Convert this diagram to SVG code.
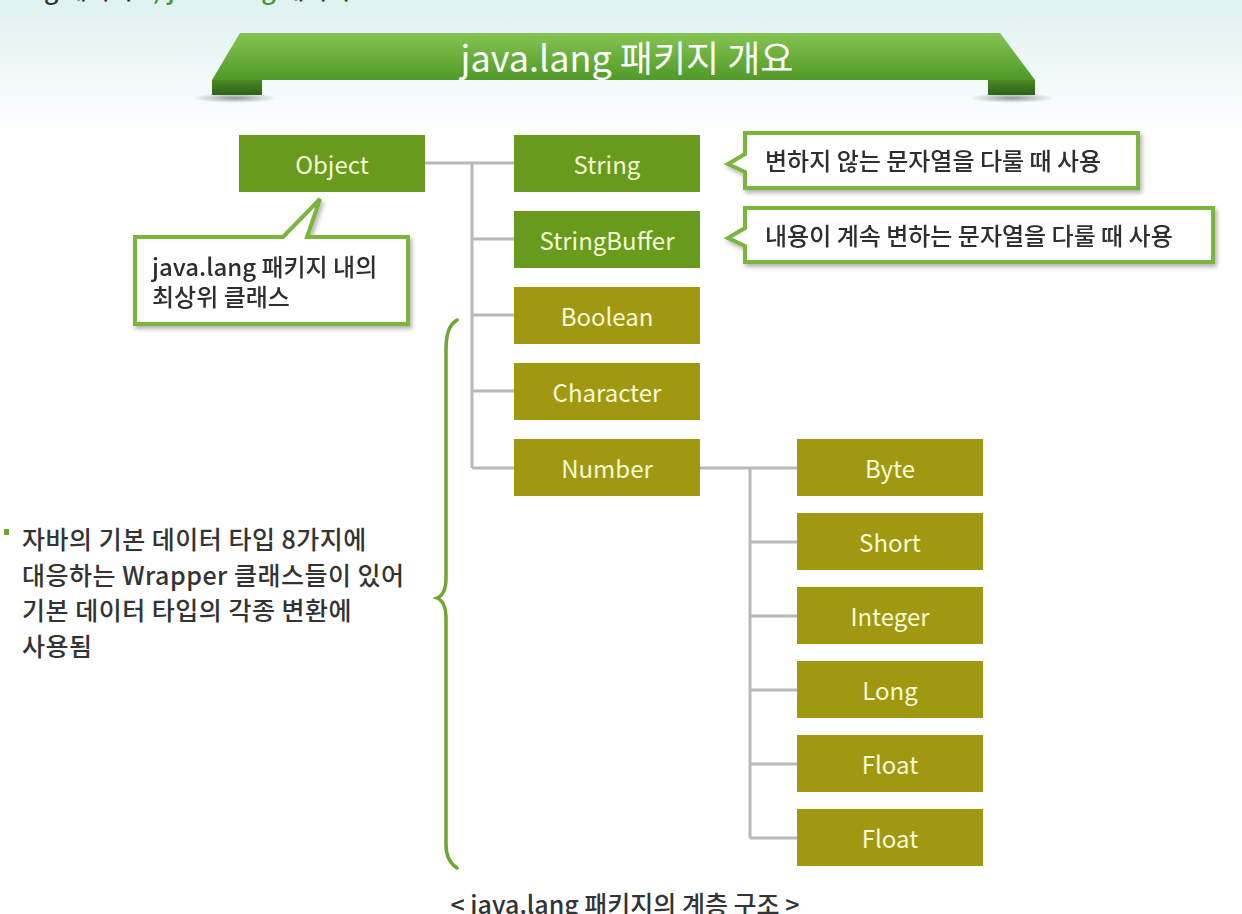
<svg xmlns="http://www.w3.org/2000/svg" width="1242" height="914" viewBox="0 0 1242 914">
<defs>
<linearGradient id="bg" x1="0" y1="0" x2="0" y2="1">
<stop offset="0" stop-color="#dff1f1"/>
<stop offset="1" stop-color="#ffffff"/>
</linearGradient>
<linearGradient id="ban" x1="0" y1="0" x2="0" y2="1">
<stop offset="0" stop-color="#86c452"/>
<stop offset="1" stop-color="#4f9a28"/>
</linearGradient>
<linearGradient id="tab" x1="0" y1="0" x2="0" y2="1">
<stop offset="0" stop-color="#4a8a22"/>
<stop offset="1" stop-color="#2c6315"/>
</linearGradient>
<radialGradient id="shd" cx="0.5" cy="0.5" r="0.5">
<stop offset="0" stop-color="#555" stop-opacity="0.6"/>
<stop offset="1" stop-color="#555" stop-opacity="0"/>
</radialGradient>
<filter id="ds" x="-10%" y="-20%" width="120%" height="150%">
<feDropShadow dx="2" dy="3" stdDeviation="2" flood-color="#000" flood-opacity="0.3"/>
</filter>
</defs>
<style>
.g{fill:#689b1d}
.o{fill:#a19812}
.lbl{font-family:"Noto Sans CJK KR","Open Sans",sans-serif;font-size:24px;fill:#f6f9d6;text-anchor:middle;dominant-baseline:central}
.con{fill:none;stroke:#b8b8b8;stroke-width:3}
.call{fill:#ffffff;stroke:#79b63b;stroke-width:4;stroke-linejoin:miter}
.ct{font-family:"Noto Sans CJK KR",sans-serif;font-size:24px;font-weight:500;fill:#2e2e2e}
.bt{font-family:"Noto Sans CJK KR",sans-serif;font-size:25px;font-weight:500;fill:#333333}
</style>
<rect x="0" y="0" width="1242" height="914" fill="#ffffff"/>
<rect x="0" y="0" width="1242" height="140" fill="url(#bg)"/>

<g id="topline">
<text x="-50" y="-1" class="bt"><tspan>java.lang 패키지 </tspan><tspan fill="#3e9a2a">1) java.lang</tspan><tspan> 패키지</tspan></text>
</g>

<g id="banner">
<ellipse cx="235" cy="98" rx="42" ry="5" fill="url(#shd)"/>
<ellipse cx="1012" cy="98" rx="42" ry="5" fill="url(#shd)"/>
<rect x="212" y="80" width="50" height="15" fill="url(#tab)"/>
<rect x="988" y="80" width="47" height="15" fill="url(#tab)"/>
<polygon points="240,33 1000,33 1035,80 212,80" fill="url(#ban)"/>
<text x="627" y="56" font-family="Noto Sans CJK KR,sans-serif" font-size="36" fill="#ffffff" text-anchor="middle" dominant-baseline="central">java.lang 패키지 개요</text>
</g>

<g id="connectors">
<path class="con" d="M425,163 H514 M472,163 V468 M472,239 H514 M472,315 H514 M472,391 H514 M472,468 H514"/>
<path class="con" d="M700,468 H797 M750,468 V838 M750,542 H797 M750,616 H797 M750,690 H797 M750,764 H797 M750,838 H797"/>
</g>

<g id="object"><rect class="g" x="239" y="135" width="186" height="57"/><text class="lbl" x="332" y="163">Object</text></g>
<g id="string"><rect class="g" x="514" y="135" width="186" height="57"/><text class="lbl" x="607" y="163">String</text></g>
<g id="stringbuffer"><rect class="g" x="514" y="211" width="186" height="57"/><text class="lbl" x="607" y="239">StringBuffer</text></g>
<g id="boolean"><rect class="o" x="514" y="287" width="186" height="57"/><text class="lbl" x="607" y="315">Boolean</text></g>
<g id="character"><rect class="o" x="514" y="363" width="186" height="57"/><text class="lbl" x="607" y="391">Character</text></g>
<g id="number"><rect class="o" x="514" y="439" width="186" height="57"/><text class="lbl" x="607" y="467">Number</text></g>
<g id="byte"><rect class="o" x="797" y="439" width="186" height="57"/><text class="lbl" x="890" y="467">Byte</text></g>
<g id="short"><rect class="o" x="797" y="513" width="186" height="57"/><text class="lbl" x="890" y="541">Short</text></g>
<g id="integer"><rect class="o" x="797" y="587" width="186" height="57"/><text class="lbl" x="890" y="615">Integer</text></g>
<g id="long"><rect class="o" x="797" y="661" width="186" height="57"/><text class="lbl" x="890" y="689">Long</text></g>
<g id="float1"><rect class="o" x="797" y="735" width="186" height="57"/><text class="lbl" x="890" y="763">Float</text></g>
<g id="float2"><rect class="o" x="797" y="809" width="186" height="57"/><text class="lbl" x="890" y="837">Float</text></g>

<g id="callout-string" filter="url(#ds)">
<path class="call" d="M745,133 H1138 V188 H745 V172 L728,164 L745,154 Z"/>
<text class="ct" x="765" y="170">변하지 않는 문자열을 다룰 때 사용</text>
</g>
<g id="callout-stringbuffer" filter="url(#ds)">
<path class="call" d="M745,208 H1213 V262 H745 V246 L728,238 L745,228 Z"/>
<text class="ct" x="765" y="245">내용이 계속 변하는 문자열을 다룰 때 사용</text>
</g>
<g id="callout-object" filter="url(#ds)">
<path class="call" d="M135,237 H283 L320,199 L307,237 H408 V324 H135 Z"/>
<text class="ct" x="152" y="276" font-size="21">java.lang 패키지 내의</text>
<text class="ct" x="152" y="306" font-size="21">최상위 클래스</text>
</g>

<g id="brace">
<path d="M457,320 C449,325 446,334 446,350 L446,578 C446,591 442,596 437,598 C442,600 446,606 446,619 L446,845 C446,857 451,864 457,868" fill="none" stroke="#6ea62e" stroke-width="3.5" stroke-linecap="round"/>
</g>

<g id="wrapper-note">
<rect x="4" y="529" width="5" height="6" fill="#6ea62e"/>
<text class="bt" x="22" y="549" letter-spacing="0.5">자바의 기본 데이터 타입 8가지에</text>
<text class="bt" x="22" y="585" letter-spacing="0.5">대응하는 Wrapper 클래스들이 있어</text>
<text class="bt" x="22" y="620" letter-spacing="0.5">기본 데이터 타입의 각종 변환에</text>
<text class="bt" x="22" y="656" letter-spacing="0.5">사용됨</text>
</g>

<g id="caption">
<text class="bt" x="625" y="914" text-anchor="middle" font-size="26">&lt; java.lang 패키지의 계층 구조 &gt;</text>
</g>
</svg>
